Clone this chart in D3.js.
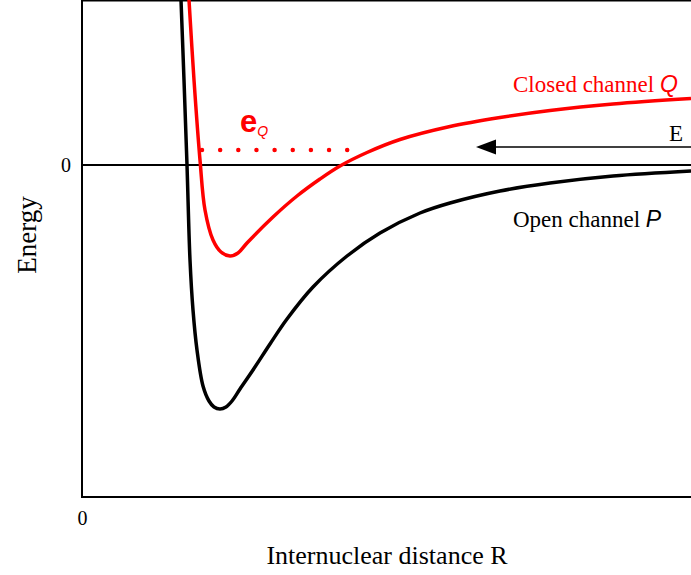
<!DOCTYPE html>
<html>
<head>
<meta charset="utf-8">
<script src="https://cdn.jsdelivr.net/npm/d3@7/dist/d3.min.js"></script>
<style>
  html, body { margin: 0; padding: 0; background: #fff; }
  svg { display: block; }
</style>
</head>
<body>
<svg id="chart" width="691" height="575" font-family="Liberation Serif, Times New Roman, serif"></svg>
<script>
// Internuclear distance R (arbitrary units) and potential energy for each channel
const openR = [0.99, 1.02, 1.05, 1.08, 1.11, 1.15, 1.21, 1.27, 1.32, 1.38, 1.44, 1.50, 1.58, 1.71, 1.88, 2.05, 2.31, 2.65, 2.98, 3.38, 3.68, 4.18, 4.68, 5.31, 6.09];
const openE = [1.65, 0.85, 0.00, -0.95, -1.45, -1.85, -2.21, -2.36, -2.42, -2.44, -2.42, -2.36, -2.24, -2.05, -1.79, -1.54, -1.22, -0.91, -0.68, -0.48, -0.38, -0.26, -0.18, -0.11, -0.06];

const closedR = [1.07, 1.12, 1.18, 1.23, 1.31, 1.39, 1.48, 1.56, 1.65, 1.91, 2.15, 2.38, 2.58, 2.85, 3.18, 3.68, 4.18, 4.68, 5.31, 6.09];
const closedE = [1.65, 0.85, 0.05, -0.45, -0.75, -0.87, -0.91, -0.88, -0.78, -0.52, -0.31, -0.14, -0.01, 0.125, 0.255, 0.385, 0.475, 0.545, 0.61, 0.665];

// Bound-state energy of the closed channel and its classical turning points
const levelE = 0.15;
const levelR = [1.20, 2.83];

// Incoming collision energy arrow (from far right toward small R)
const arrowE = 0.18;
const arrowR = [6.09, 3.94];

const xTicks = [0];
const yTicks = [0];

const svg = d3.select("#chart");
const mLeft = 82, mRight = 691, mTop = 0, mBottom = 497;

const x = d3.scaleLinear().domain([0, 6.09]).range([mLeft, mRight]);
const y = d3.scaleLinear().domain([-3.32, 1.65]).range([mBottom, mTop]);

svg.append("defs").append("clipPath").attr("id", "plotClip")
  .append("rect").attr("x", mLeft).attr("y", mTop).attr("width", mRight - mLeft).attr("height", mBottom - mTop);

// frame: left, bottom and top edges
svg.append("line").attr("x1", mLeft).attr("x2", mLeft).attr("y1", mTop).attr("y2", mBottom)
  .attr("stroke", "#000").attr("stroke-width", 2);
svg.append("line").attr("x1", mLeft - 1).attr("x2", mRight).attr("y1", mBottom).attr("y2", mBottom)
  .attr("stroke", "#000").attr("stroke-width", 2);
svg.append("line").attr("x1", mLeft).attr("x2", mRight).attr("y1", mTop + 0.75).attr("y2", mTop + 0.75)
  .attr("stroke", "#000").attr("stroke-width", 1.5);

// zero-energy threshold line
svg.append("line").attr("x1", mLeft).attr("x2", mRight).attr("y1", y(0)).attr("y2", y(0))
  .attr("stroke", "#000").attr("stroke-width", 2);

// axes carry only the origin labels
const yAxis = svg.append("g").attr("transform", `translate(${mLeft},0)`)
  .call(d3.axisLeft(y).tickValues(yTicks).tickSize(0).tickPadding(11).tickFormat(d3.format("d")));
const xAxis = svg.append("g").attr("transform", `translate(0,${mBottom})`)
  .call(d3.axisBottom(x).tickValues(xTicks).tickSize(0).tickPadding(14).tickFormat(d3.format("d")));
[yAxis, xAxis].forEach(g => {
  g.attr("font-family", null).attr("font-size", null);
  g.select(".domain").remove();
  g.selectAll("text").attr("font-family", "Liberation Serif").attr("font-size", 20).attr("fill", "#000");
});

const line = d3.line().x(d => x(d[0])).y(d => y(d[1])).curve(d3.curveCatmullRom.alpha(0.5));
const plot = svg.append("g").attr("clip-path", "url(#plotClip)");

plot.append("path").datum(d3.zip(openR, openE)).attr("d", line)
  .attr("fill", "none").attr("stroke", "#000").attr("stroke-width", 3.5);
plot.append("path").datum(d3.zip(closedR, closedE)).attr("d", line)
  .attr("fill", "none").attr("stroke", "#ff0000").attr("stroke-width", 3.5);

// dotted bound level
plot.append("line")
  .attr("x1", x(levelR[0])).attr("x2", x(levelR[1]))
  .attr("y1", y(levelE)).attr("y2", y(levelE))
  .attr("stroke", "#ff0000").attr("stroke-width", 4.5)
  .attr("stroke-linecap", "round").attr("stroke-dasharray", "0 18.15");

// level label e_Q
const eLab = svg.append("text").attr("x", 240).attr("y", 132).attr("fill", "#ff0000");
eLab.append("tspan").attr("font-family", "Liberation Sans").attr("font-size", 31).attr("font-weight", "bold").text("e");
eLab.append("tspan").attr("font-family", "Liberation Sans").attr("font-size", 14)
  .attr("font-style", "italic").attr("dy", 4).text("Q");

// energy arrow
svg.append("line").attr("x1", x(arrowR[0])).attr("x2", x(arrowR[1]) + 18)
  .attr("y1", y(arrowE)).attr("y2", y(arrowE))
  .attr("stroke", "#000").attr("stroke-width", 1.5);
svg.append("path")
  .attr("d", `M${x(arrowR[1])},${y(arrowE)} L${x(arrowR[1]) + 20},${y(arrowE) - 7.5} L${x(arrowR[1]) + 20},${y(arrowE) + 7.5} Z`)
  .attr("fill", "#000");
svg.append("text").attr("x", 683).attr("y", 141).attr("text-anchor", "end")
  .attr("font-size", 23).text("E");

// channel labels
const cLab = svg.append("text").attr("x", 513).attr("y", 92).attr("fill", "#ff0000").attr("font-size", 23);
cLab.append("tspan").text("Closed channel ");
cLab.append("tspan").attr("font-family", "Liberation Sans").attr("font-style", "italic").text("Q");

const oLab = svg.append("text").attr("x", 513).attr("y", 227).attr("fill", "#000").attr("font-size", 23);
oLab.append("tspan").text("Open channel ");
oLab.append("tspan").attr("font-family", "Liberation Sans").attr("font-style", "italic").text("P");

// axis titles
svg.append("text").attr("x", 387).attr("y", 564).attr("text-anchor", "middle")
  .attr("font-size", 26).text("Internuclear distance R");
svg.append("text").attr("transform", "translate(36,235) rotate(-90)").attr("text-anchor", "middle")
  .attr("font-size", 27).text("Energy");
</script>
</body>
</html>
